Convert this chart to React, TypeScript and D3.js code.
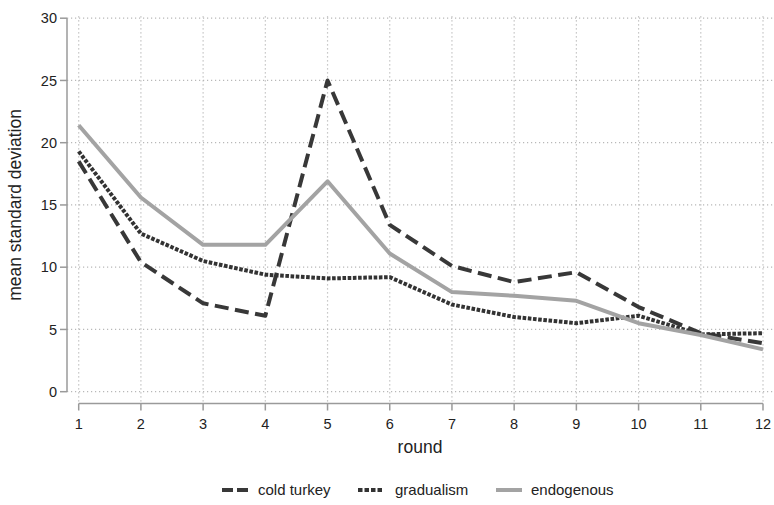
import React from "react";
import * as d3 from "d3";

const rounds = [1, 2, 3, 4, 5, 6, 7, 8, 9, 10, 11, 12];
const coldTurkey = [18.5, 10.4, 7.1, 6.1, 25.0, 13.4, 10.1, 8.8, 9.6, 6.8, 4.7, 3.9];
const gradualism = [19.3, 12.7, 10.5, 9.4, 9.1, 9.2, 7.0, 6.0, 5.5, 6.1, 4.6, 4.7];
const endogenous = [21.4, 15.6, 11.8, 11.8, 16.9, 11.1, 8.0, 7.7, 7.3, 5.5, 4.55, 3.4];
const yTicks = [0, 5, 10, 15, 20, 25, 30];
const seriesNames = ["cold turkey", "gradualism", "endogenous"];

const W = 774;
const H = 505;

export default function App() {
  const x = d3.scaleLinear().domain([1, 12]).range([78.7, 763]);
  const y = d3.scaleLinear().domain([0, 30]).range([391.7, 18.2]);
  const axisX = 67;
  const axisY = 403.5;
  const axisColor = "#9a9a9a";
  const font = "Liberation Sans, Arial, sans-serif";

  const line = d3
    .line<number>()
    .x((_, i) => x(rounds[i]))
    .y((d) => y(d));

  const series = [
    { name: seriesNames[0], data: coldTurkey, color: "#383838", dash: "14 6.5", legendDash: "11 4" },
    { name: seriesNames[1], data: gradualism, color: "#333333", dash: "3.6 1.6", legendDash: "4.5 2" },
    { name: seriesNames[2], data: endogenous, color: "#a3a3a3", dash: "", legendDash: "" },
  ];

  const legendPos = [
    { sx: 222, tx: 258 },
    { sx: 358, tx: 395 },
    { sx: 496, tx: 531 },
  ];

  return (
    <svg
      width={W}
      height={H}
      style={{ position: "absolute", left: 0, top: 0, background: "#fff" }}
      fontFamily={font}
    >
      <rect x={0} y={0} width={W} height={H} fill="#fff" />
      {yTicks.map((t) => (
        <line
          key={"gy" + t}
          x1={axisX}
          x2={W}
          y1={y(t)}
          y2={y(t)}
          stroke="#b8b8b8"
          strokeWidth={1.2}
          strokeDasharray="1.2 2.8"
        />
      ))}
      {rounds.map((r) => (
        <line
          key={"gx" + r}
          x1={x(r)}
          x2={x(r)}
          y1={y(30) - 2}
          y2={axisY}
          stroke="#b8b8b8"
          strokeWidth={1.2}
          strokeDasharray="1.2 2.8"
        />
      ))}
      <line x1={axisX} x2={axisX} y1={y(0)} y2={y(30)} stroke={axisColor} strokeWidth={1.5} />
      {yTicks.map((t) => (
        <g key={"yt" + t}>
          <line x1={axisX - 7} x2={axisX} y1={y(t)} y2={y(t)} stroke={axisColor} strokeWidth={1.5} />
          <text x={axisX - 10} y={y(t)} dy="0.35em" textAnchor="end" fontSize={14.5} fill="#222">
            {t}
          </text>
        </g>
      ))}
      <line x1={x(1)} x2={x(12)} y1={axisY} y2={axisY} stroke={axisColor} strokeWidth={1.5} />
      {rounds.map((r) => (
        <g key={"xt" + r}>
          <line x1={x(r)} x2={x(r)} y1={axisY} y2={axisY + 7} stroke={axisColor} strokeWidth={1.5} />
          <text x={x(r)} y={axisY + 25} textAnchor="middle" fontSize={14.5} fill="#222">
            {r}
          </text>
        </g>
      ))}
      <text x={420} y={453} textAnchor="middle" fontSize={17.5} fill="#222">
        round
      </text>
      <text
        transform={`translate(21,${(y(0) + y(30)) / 2}) rotate(-90)`}
        textAnchor="middle"
        fontSize={17.5}
        fill="#222"
      >
        mean standard deviation
      </text>
      {series.map((s) => (
        <path
          key={s.name}
          d={line(s.data) || ""}
          fill="none"
          stroke={s.color}
          strokeWidth={4}
          strokeDasharray={s.dash || undefined}
          strokeLinejoin="round"
        />
      ))}
      {series.map((s, i) => (
        <g key={"lg" + s.name}>
          <line
            x1={legendPos[i].sx}
            x2={legendPos[i].sx + 26}
            y1={490}
            y2={490}
            stroke={s.color}
            strokeWidth={4}
            strokeDasharray={s.legendDash || undefined}
          />
          <text x={legendPos[i].tx} y={490} dy="0.35em" fontSize={15} fill="#222">
            {s.name}
          </text>
        </g>
      ))}
    </svg>
  );
}
